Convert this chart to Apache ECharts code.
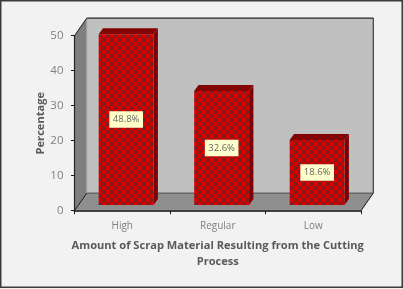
<!DOCTYPE html>
<html><head><meta charset="utf-8">
<style>html,body{margin:0;padding:0;background:#f2f2f2}#c{width:403px;height:289px}</style>
<script src="https://cdn.jsdelivr.net/npm/echarts@6/dist/echarts.min.js"></script>
</head><body><div id="c"></div>
<script>
const categories = ['High', 'Regular', 'Low'];
const values = [48.8, 32.6, 18.6];
const valueLabels = ['48.8%', '32.6%', '18.6%'];
const yTitle = 'Percentage';
const xTitle = 'Amount of Scrap Material Resulting from the Cutting\nProcess';

function tile(line, cell, dot) {
  const c = document.createElement('canvas'); c.width = 8; c.height = 8;
  const g = c.getContext('2d');
  g.fillStyle = cell; g.fillRect(0, 0, 8, 8);
  g.strokeStyle = line; g.lineWidth = 1.1;
  g.beginPath();
  g.moveTo(0, 0); g.lineTo(8, 8); g.moveTo(8, 0); g.lineTo(0, 8);
  g.stroke();
  g.fillStyle = dot;
  [[4, 0.5], [4, 7.5], [0, 4], [8, 4]].forEach(p => { g.beginPath(); g.arc(p[0], p[1], 2.2, 0, 7); g.fill(); });
  return { image: c, repeat: 'repeat' };
}
const frontFill = tile('#5f2a2a', '#c00202', '#dc0000');
const topFill = tile('#6d0f0f', '#860000', '#8e0000');
const sideFill = tile('#5a1010', '#7d0000', '#8a0000');

const chart = echarts.init(document.getElementById('c'), null, { renderer: 'canvas' });
const depth = [12.3, -17.6];
const barDepth = [4.3, -6];
const barShift = [3.9, -5.7];

function wallItem(params, api) {
  const o = api.coord([0, 0]);
  const size = api.size([1, 1]);
  const w = size[0] * 3;
  const x0 = o[0] - size[0] / 2;
  const y0 = o[1];
  const h = size[1] * 50;
  const dx = depth[0], dy = depth[1];
  const poly = (pts, fill) => ({ type: 'polygon', shape: { points: pts }, style: { fill: fill } });
  const line = (a, b, col, lw) => ({ type: 'line', shape: { x1: a[0], y1: a[1], x2: b[0], y2: b[1] }, style: { stroke: col, lineWidth: lw } });
  return { type: 'group', children: [
    poly([[x0 + dx, y0 + dy - h], [x0 + dx + w, y0 + dy - h], [x0 + dx + w, y0 + dy], [x0 + dx, y0 + dy]], '#c0c0c0'),
    poly([[x0, y0 - h], [x0 + dx, y0 + dy - h], [x0 + dx, y0 + dy], [x0, y0]], '#7f7f7f'),
    poly([[x0, y0], [x0 + dx, y0 + dy], [x0 + dx + w, y0 + dy], [x0 + w, y0]], '#8f8f8f'),
    line([x0 + dx, y0 + dy], [x0 + dx + w, y0 + dy], '#4d4d4d', 1),
    line([x0 + dx, y0 + dy - h], [x0 + dx + w, y0 + dy - h], '#262626', 1.2),
    line([x0 + dx + w, y0 + dy - h], [x0 + dx + w, y0 + dy], '#404040', 1.2),
    line([x0 + dx, y0 + dy - h], [x0 + dx, y0 + dy], '#a6a6a6', 1),
    line([x0, y0 - h], [x0 + dx, y0 + dy - h], '#1a1a1a', 1),
    line([x0, y0], [x0 + dx, y0 + dy], '#1a1a1a', 1),
    line([x0 + w, y0], [x0 + dx + w, y0 + dy], '#1a1a1a', 1)
  ] };
}

function barItem(params, api) {
  const idx = api.value(0);
  const top = api.coord([idx, api.value(1)]);
  const base = api.coord([idx, 0]);
  const w = api.size([1, 0])[0] * 0.575;
  const l = top[0] + barShift[0] - w / 2, r = l + w;
  const t = top[1] + barShift[1], b = base[1] + barShift[1];
  const bx = barDepth[0], by = barDepth[1];
  return { type: 'group', children: [
    { type: 'polygon', shape: { points: [[r, t], [r + bx, t + by], [r + bx, b + by], [r, b]] }, style: { fill: sideFill } },
    { type: 'polygon', shape: { points: [[l, t], [l + bx, t + by], [r + bx, t + by], [r, t]] }, style: { fill: topFill } },
    { type: 'rect', shape: { x: l, y: t, width: w, height: b - t }, style: { fill: frontFill } },
    { type: 'text', x: (l + r) / 2, y: (t + b) / 2, style: {
      text: valueLabels[idx], align: 'center', verticalAlign: 'middle',
      font: '9.5px "Open Sans"', fill: '#666666',
      backgroundColor: '#ffffcc', padding: [3.5, 3.5, 3, 3.5]
    } }
  ] };
}

chart.setOption({
  animation: false,
  backgroundColor: '#f2f2f2',
  graphic: [{ type: 'rect', z: -10, shape: { x: 0.75, y: 0.75, width: 401.5, height: 286.5 },
    style: { fill: '#f2f2f2', stroke: '#3a3a3a', lineWidth: 1.5 } }],
  grid: { left: 74.5, right: 42, top: 35.7, bottom: 78.3 },
  xAxis: {
    type: 'category', data: categories, boundaryGap: true,
    axisLine: { lineStyle: { color: '#404040', width: 2 } },
    axisTick: { show: true, alignWithLabel: false, length: 3.5, lineStyle: { color: '#1a1a1a', width: 1 } },
    axisLabel: { color: '#7f7f7f', fontFamily: 'Open Sans', fontSize: 10, margin: 10 },
    name: xTitle, nameLocation: 'middle', nameGap: 27,
    nameTextStyle: { color: '#595959', fontFamily: 'Open Sans', fontWeight: 'bold', fontSize: 11.1, lineHeight: 16 }
  },
  yAxis: {
    type: 'value', min: 0, max: 50, interval: 10,
    splitLine: { show: false },
    axisLine: { show: true, lineStyle: { color: '#262626', width: 1.2 } },
    axisTick: { show: true, length: 3.5, lineStyle: { color: '#1a1a1a', width: 1 } },
    axisLabel: { color: '#7f7f7f', fontFamily: 'Open Sans', fontSize: 11.5, margin: 11 },
    name: yTitle, nameLocation: 'middle', nameGap: 28, nameMoveOverlap: false,
    nameTextStyle: { color: '#595959', fontFamily: 'Open Sans', fontWeight: 'bold', fontSize: 11.1 }
  },
  series: [
    { type: 'custom', z: -1, silent: true, renderItem: wallItem, data: [[0, 0]], encode: { x: 0, y: 1 } },
    { type: 'custom', z: 3, renderItem: barItem, data: values.map((v, i) => [i, v]), encode: { x: 0, y: 1 } }
  ]
});
</script></body></html>
